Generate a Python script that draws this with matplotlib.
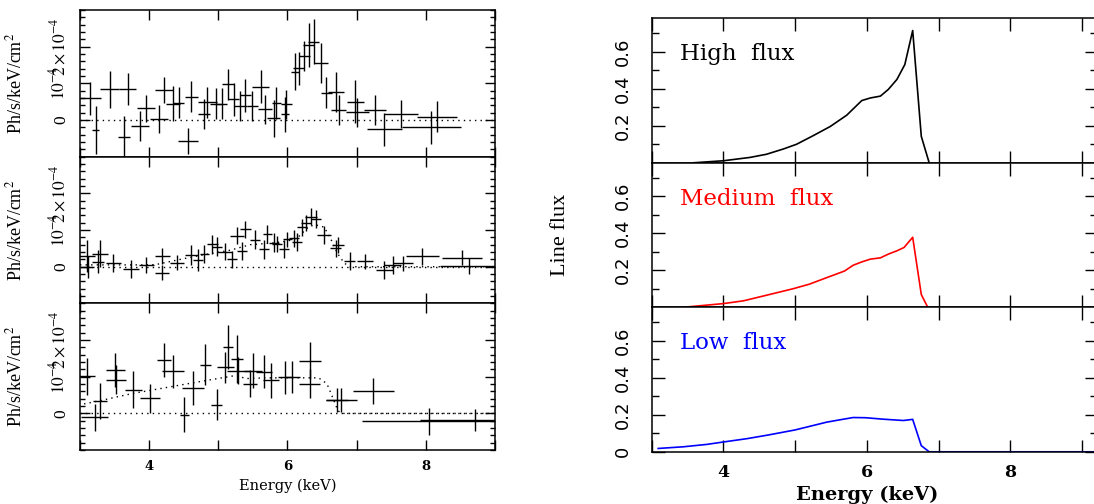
import matplotlib
matplotlib.use("Agg")
import matplotlib.pyplot as plt
from matplotlib.ticker import MultipleLocator, FixedLocator, FuncFormatter

plt.rcParams["mathtext.fontset"] = "stix"

# ---------------- data: unfolded residual spectra (units of 1e-4 ph/s/keV/cm^2)
# high-flux state
e_high = [3.15, 3.23, 3.43, 3.64, 3.69, 3.87, 3.96, 4.14, 4.22, 4.35,
          4.43, 4.56, 4.61, 4.79, 4.84, 4.96, 5.05, 5.14, 5.22, 5.32,
          5.39, 5.49, 5.61, 5.68, 5.80, 5.84, 5.96, 5.98, 6.11, 6.16,
          6.24, 6.31, 6.38, 6.48, 6.56, 6.70, 6.74, 6.98, 7.01, 7.27,
          7.40, 7.64, 8.08, 8.16]
de_high = [0.16, 0.05, 0.14, 0.09, 0.12, 0.13, 0.13, 0.13, 0.13, 0.10,
           0.08, 0.14, 0.09, 0.09, 0.14, 0.08, 0.08, 0.08, 0.08, 0.10,
           0.08, 0.08, 0.12, 0.10, 0.09, 0.07, 0.06, 0.08, 0.06, 0.08,
           0.08, 0.08, 0.08, 0.10, 0.08, 0.12, 0.11, 0.12, 0.17, 0.16,
           0.25, 0.24, 0.43, 0.29]
f_high = [0.59, -0.27, 0.84, -0.45, 0.84, -0.16, 0.32, 0.02, 0.82, 0.44,
          0.47, -0.57, 0.64, 0.16, 0.48, 0.45, 0.44, 0.97, 0.56, 0.38,
          0.68, 0.38, 0.91, 0.29, 0.05, 0.47, 0.16, 0.43, 1.32, 1.41,
          1.75, 2.05, 2.14, 1.56, 0.75, 0.77, 0.27, 0.50, 0.21, 0.27,
          -0.25, 0.16, -0.20, 0.09]
df_high = [0.44, 0.65, 0.50, 0.55, 0.44, 0.40, 0.37, 0.38, 0.36, 0.48,
           0.42, 0.35, 0.42, 0.40, 0.42, 0.42, 0.42, 0.42, 0.45, 0.42,
           0.45, 0.42, 0.45, 0.40, 0.50, 0.43, 0.48, 0.40, 0.50, 0.45,
           0.41, 0.60, 0.62, 0.55, 0.43, 0.55, 0.40, 0.58, 0.40, 0.41,
           0.45, 0.38, 0.45, 0.42]

# medium-flux state
e_med = [3.10, 3.11, 3.29, 3.26, 3.48, 3.74, 3.96, 4.19, 4.19, 4.40,
         4.61, 4.71, 4.80, 4.91, 4.98, 5.10, 5.20, 5.27, 5.39, 5.34,
         5.53, 5.66, 5.71, 5.80, 5.85, 5.95, 6.00, 6.09, 6.14, 6.21,
         6.27, 6.34, 6.41, 6.53, 6.70, 6.73, 6.90, 7.12, 7.40, 7.52,
         7.67, 7.95, 8.52, 8.63]
de_med = [0.11, 0.09, 0.11, 0.08, 0.11, 0.12, 0.11, 0.11, 0.10, 0.10,
          0.09, 0.07, 0.07, 0.08, 0.07, 0.10, 0.07, 0.10, 0.08, 0.07,
          0.07, 0.07, 0.07, 0.07, 0.07, 0.07, 0.07, 0.07, 0.07, 0.07,
          0.07, 0.08, 0.07, 0.10, 0.08, 0.08, 0.08, 0.11, 0.12, 0.12,
          0.14, 0.24, 0.29, 0.42]
f_med = [0.29, -0.02, 0.36, 0.14, 0.11, -0.06, 0.05, 0.29, -0.16, 0.11,
         0.32, 0.18, 0.35, 0.61, 0.55, 0.41, 0.20, 0.84, 1.02, 0.43,
         0.73, 0.47, 0.89, 0.66, 0.61, 0.48, 0.75, 0.77, 0.68, 1.07,
         1.20, 1.36, 1.30, 0.86, 0.50, 0.59, 0.15, 0.15, -0.09, 0.05,
         0.09, 0.29, 0.25, 0.03]
df_med = [0.43, 0.30, 0.38, 0.32, 0.25, 0.25, 0.22, 0.22, 0.20, 0.20,
          0.28, 0.30, 0.25, 0.25, 0.25, 0.24, 0.24, 0.23, 0.23, 0.24,
          0.26, 0.26, 0.25, 0.25, 0.22, 0.25, 0.20, 0.24, 0.24, 0.23,
          0.22, 0.23, 0.24, 0.25, 0.24, 0.22, 0.24, 0.21, 0.24, 0.24,
          0.21, 0.23, 0.21, 0.22]
model_e_med = [3.0, 4.0, 4.1, 4.5, 4.8, 5.17, 5.46, 5.8, 6.0, 6.14, 6.31,
               6.41, 6.53, 6.62, 6.72, 6.82, 6.9, 9.0]
model_f_med = [0.05, 0.05, 0.06, 0.22, 0.33, 0.45, 0.60, 0.65, 0.70, 0.78,
               1.10, 1.14, 1.08, 0.78, 0.37, 0.10, 0.0, 0.0]

# low-flux state
e_low = [3.10, 3.21, 3.29, 3.51, 3.52, 3.77, 4.01, 4.22, 4.35, 4.51,
         4.64, 4.81, 4.98, 5.10, 5.14, 5.27, 5.29, 5.46, 5.50, 5.66,
         5.76, 5.97, 6.07, 6.32, 6.32, 6.71, 6.78, 7.24, 8.05, 8.71]
de_low = [0.11, 0.19, 0.10, 0.14, 0.14, 0.12, 0.14, 0.10, 0.16, 0.07,
          0.16, 0.08, 0.08, 0.12, 0.07, 0.08, 0.17, 0.10, 0.13, 0.11,
          0.11, 0.11, 0.11, 0.16, 0.15, 0.16, 0.22, 0.30, 0.97, 0.80]
f_low = [1.01, -0.11, 0.34, 1.19, 0.92, 0.65, 0.41, 1.46, 1.15, -0.03,
         0.70, 1.33, 0.24, 1.26, 1.80, 1.49, 1.17, 0.81, 1.17, 1.13,
         0.90, 0.99, 1.00, 1.44, 0.81, 0.36, 0.36, 0.61, -0.22, -0.17]
df_low = [0.50, 0.37, 0.48, 0.47, 0.40, 0.50, 0.40, 0.47, 0.45, 0.47,
          0.47, 0.56, 0.42, 0.42, 0.60, 0.65, 0.38, 0.37, 0.49, 0.45,
          0.47, 0.45, 0.43, 0.50, 0.40, 0.32, 0.32, 0.35, 0.36, 0.30]
model_e_low = [2.98, 3.27, 3.75, 4.23, 4.71, 5.27, 5.39, 5.68, 6.02, 6.45,
               6.57, 6.65, 6.73, 6.79, 9.0]
model_f_low = [0.23, 0.34, 0.54, 0.70, 0.86, 1.04, 0.95, 0.97, 0.97, 0.97,
               0.81, 0.45, 0.07, 0.0, 0.0]

# ---------------- data: model line profiles
prof_e_high = [3.58, 4.0, 4.37, 4.6, 4.84, 5.02, 5.25, 5.49, 5.72, 5.93,
               6.05, 6.19, 6.3, 6.42, 6.53, 6.64, 6.76, 6.87]
prof_f_high = [0.0, 0.011, 0.029, 0.046, 0.075, 0.10, 0.146, 0.196, 0.257,
               0.336, 0.35, 0.36, 0.396, 0.45, 0.53, 0.714, 0.143, 0.0]
prof_e_med = [3.44, 4.0, 4.28, 4.6, 4.97, 5.2, 5.44, 5.58, 5.69, 5.81,
              5.93, 6.05, 6.19, 6.3, 6.42, 6.52, 6.64, 6.76, 6.85]
prof_f_med = [0.0, 0.02, 0.035, 0.065, 0.10, 0.125, 0.16, 0.18, 0.196,
              0.227, 0.245, 0.26, 0.267, 0.287, 0.305, 0.323, 0.378, 0.069, 0.0]
prof_e_low = [3.09, 3.44, 3.77, 4.0, 4.33, 4.63, 5.0, 5.21, 5.44, 5.63,
              5.81, 5.98, 6.23, 6.51, 6.64, 6.76, 6.87, 9.5]
prof_f_low = [0.018, 0.027, 0.04, 0.053, 0.071, 0.091, 0.118, 0.138, 0.16,
              0.173, 0.185, 0.184, 0.176, 0.169, 0.175, 0.033, 0.0, 0.0]

spec_sets = [(e_high, de_high, f_high, df_high, None, None),
             (e_med, de_med, f_med, df_med, model_e_med, model_f_med),
             (e_low, de_low, f_low, df_low, model_e_low, model_f_low)]
prof_sets = [(prof_e_high, prof_f_high, "black", "High  flux"),
             (prof_e_med, prof_f_med, "red", "Medium  flux"),
             (prof_e_low, prof_f_low, "blue", "Low  flux")]

# ---------------- figure
W, H = 1094, 504
fig = plt.figure(figsize=(W / 100, H / 100), dpi=100)


def px_axes(x0, y0, x1, y1):
    return fig.add_axes([x0 / W, 1 - y1 / H, (x1 - x0) / W, (y1 - y0) / H])


def even_labels(v, pos):
    n = int(round(v))
    return f"{n}" if n % 2 == 0 and 3 < n < 9 else ""


def flux_labels(with_zero):
    def fmt(v, pos):
        if v > 0.05:
            return f"{v:.1f}"
        return "0" if with_zero else ""
    return fmt


serif = "DejaVu Serif"
times = "Liberation Serif"
dotted = (0, (1, 3))

# left column: residual spectra
top, hgt = 10, 146.7
for i, (e, de, f, df, me, mf) in enumerate(spec_sets):
    ax = px_axes(80, top + i * hgt, 495, top + (i + 1) * hgt)
    ax.set_xlim(3, 9)
    ax.set_ylim(-1, 3)
    ax.axhline(0, color="black", lw=1.0, ls=dotted)
    if me is not None:
        ax.plot(me, mf, color="black", lw=1.0, ls=dotted)
    ax.errorbar(e, f, xerr=de, yerr=df, fmt="none", ecolor="black",
                elinewidth=1.0, capsize=0)
    ax.xaxis.set_major_locator(MultipleLocator(1))
    ax.yaxis.set_major_locator(FixedLocator([0, 1, 2]))
    ax.yaxis.set_minor_locator(MultipleLocator(0.2))
    ax.set_yticklabels(["0", r"$10^{-4}$", r"$2\times10^{-4}$"],
                       rotation=90, va="center", fontsize=12.5, family=times)
    ax.tick_params(which="both", direction="in", top=True, right=True,
                   width=1.0)
    ax.tick_params(which="major", length=7, pad=8)
    ax.tick_params(which="minor", length=3.5)
    for s in ax.spines.values():
        s.set_linewidth(1.1)
    if i < 2:
        ax.tick_params(axis="x", labelbottom=False)
    else:
        ax.xaxis.set_major_formatter(FuncFormatter(even_labels))
        ax.tick_params(axis="x", labelsize=9.5, pad=7)
        for lab in ax.get_xticklabels():
            lab.set_family(serif)
            lab.set_weight("bold")
        ax.set_xlabel("Energy (keV)", fontsize=10.5, family=serif,
                      labelpad=4)
    ax.set_ylabel("Ph/s/keV/cm$^{2}$", fontsize=13, family=times)
    ax.yaxis.set_label_coords(-55 / 415, 0.5)

# right column: line profiles
rtop, rhgt = 18.3, 144.5
for i, (e, f, col, name) in enumerate(prof_sets):
    ax = px_axes(651.7, rtop + i * rhgt, 1097, rtop + (i + 1) * rhgt)
    ax.set_xlim(3, 3 + (1097 - 651.7) / 71.7)
    ax.set_ylim(0, 0.78)
    ax.plot(e, f, color=col, lw=1.2)
    ax.text(3.39, 0.585, name, color=col, fontsize=16.5, family=serif,
            ha="left", va="center")
    ax.xaxis.set_major_locator(MultipleLocator(1))
    ax.yaxis.set_major_locator(MultipleLocator(0.2))
    ax.yaxis.set_minor_locator(MultipleLocator(0.1))
    ax.yaxis.set_major_formatter(FuncFormatter(flux_labels(i == 2)))
    ax.tick_params(axis="y", labelsize=13, labelrotation=90)
    for lab in ax.get_yticklabels():
        lab.set_va("center")
    ax.tick_params(which="both", direction="in", top=True, right=True,
                   width=1.0)
    ax.tick_params(which="major", length=9, pad=14)
    ax.tick_params(which="minor", length=5)
    for s in ax.spines.values():
        s.set_linewidth(1.1)
    if i < 2:
        ax.tick_params(axis="x", labelbottom=False)
    else:
        ax.xaxis.set_major_formatter(FuncFormatter(even_labels))
        ax.tick_params(axis="x", labelsize=12.5, pad=9)
        for lab in ax.get_xticklabels():
            lab.set_family(serif)
            lab.set_weight("bold")
        ax.text(6, -0.23, "Energy (keV)", fontsize=14, family=serif,
                weight="bold", ha="center", va="center",
                transform=ax.transData)
    if i == 1:
        ax.set_ylabel("Line flux", fontsize=16, family=times)
        ax.yaxis.set_label_coords(-82 / 445.3, 0.5)

fig.savefig("out.png", dpi=100)
